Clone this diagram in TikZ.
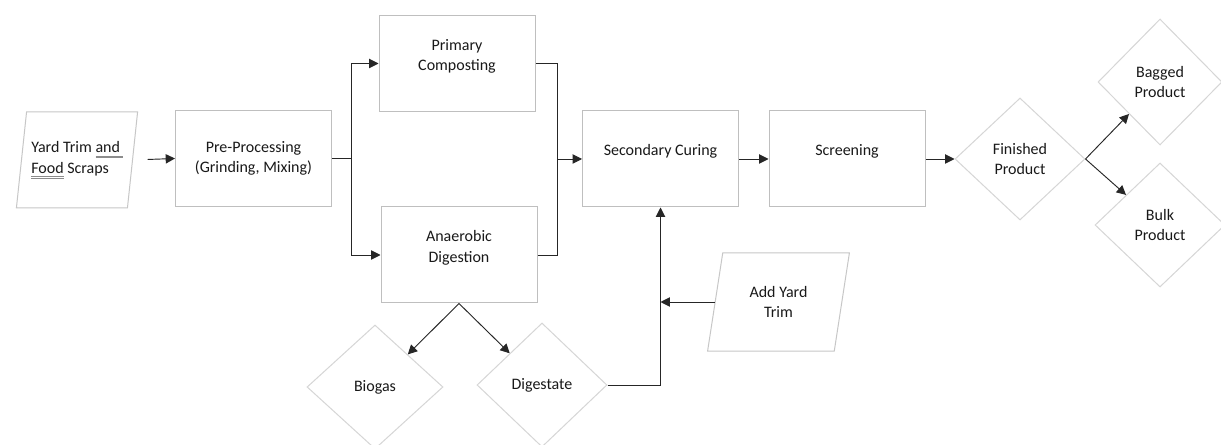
\documentclass[tikz,border=0pt]{standalone}
\usepackage{fontspec}
\setmainfont{Carlito}
\usetikzlibrary{shapes.geometric,arrows.meta}
% double grey line under a word, as a spell checker marks it
\newcommand{\gramuline}[1]{\setbox0=\hbox{#1}\rlap{\color{black!45}\rule[-2.6pt]{\wd0}{0.4pt}}\rlap{\color{black!45}\rule[-3.8pt]{\wd0}{0.4pt}}\box0\relax}
\tikzset{
	procbox/.style={draw=black!25, line width=0.75pt, minimum width=117pt, minimum height=72pt, align=center, inner sep=2pt},
	decbox/.style={diamond, draw=black!16, line width=0.75pt, aspect=1, inner sep=0pt, align=center},
	iobox/.style={trapezium, trapezium left angle=77, trapezium right angle=103, trapezium stretches=true, draw=black!22, line width=0.75pt, inner sep=2pt},
	conn/.style={->, >={Triangle[length=7pt,width=7pt]}, draw=black!85, line width=0.7pt},
}

\begin{document}
\begin{tikzpicture}[x=0.75pt,y=-0.75pt,font=\fontsize{12pt}{15.5pt}\selectfont,text=black!90]
	\useasboundingbox[fill=white] (0,0) rectangle (1221,445);
	% inputs
	\node[iobox, minimum width=91.5pt, minimum height=72pt, align=left] (yard) at (77,160) {Yard Trim \gramuline{and\,}\\\gramuline{Food} Scraps};
	\node[iobox, minimum width=107pt, minimum height=73.5pt, align=center] (add) at (778.5,302) {Add Yard\\Trim};
	% process steps
	\node[procbox] (pre) at (253.5,158.5) {Pre-Processing\\(Grinding, Mixing)};
	\node[procbox, text depth=13pt] (prim) at (457,63.5) {Primary\\Composting};
	\node[procbox, text depth=13pt] (anaer) at (459,255) {Anaerobic\\Digestion};
	\node[procbox, text depth=13pt] (sec) at (660.5,159) {Secondary Curing};
	\node[procbox, text depth=13pt] (scr) at (847,159) {Screening};
	% products
	\node[decbox, minimum width=97.5pt, minimum height=91.5pt] (fin) at (1020,159) {Finished\\Product};
	\node[decbox, minimum width=93pt, minimum height=94.5pt] (bag) at (1160,82) {Bagged\\Product};
	\node[decbox, minimum width=97.5pt, minimum height=93pt] (bulk) at (1160,225) {Bulk\\Product};
	\node[decbox, minimum width=102pt, minimum height=93pt] (bio) at (375,387) {Biogas};
	\node[decbox, minimum width=97.5pt, minimum height=93pt] (dig) at (542,385) {Digestate};
	\coordinate (split) at (351,158.5);% fork after pre-processing
	\coordinate (merge) at (557,159);% join before curing
	\coordinate (join) at (add.west -| sec.south);
	\draw[conn, shorten <=11pt] (yard.east) -- (pre.west);
	\draw[conn, -] (pre.east) -- (split);
	\draw[conn] (split) |- (prim.west);
	\draw[conn] (split) |- (anaer.west);
	\draw[conn, -] (prim.east) -| (merge);
	\draw[conn, -] (anaer.east) -| (merge);
	\draw[conn] (merge) -- (sec.west);
	\draw[conn] (sec.east) -- (scr.west);
	\draw[conn] (scr.east) -- (fin.west);
	\draw[conn] (fin.east) -- (bag);
	\draw[conn] (fin.east) -- (bulk);
	\draw[conn] (anaer.south) -- (bio);
	\draw[conn] (anaer.south) -- (dig);
	\draw[conn] (dig.east) -| (sec.south);
	\draw[conn] (add.west) -- (join);
\end{tikzpicture}
\end{document}
